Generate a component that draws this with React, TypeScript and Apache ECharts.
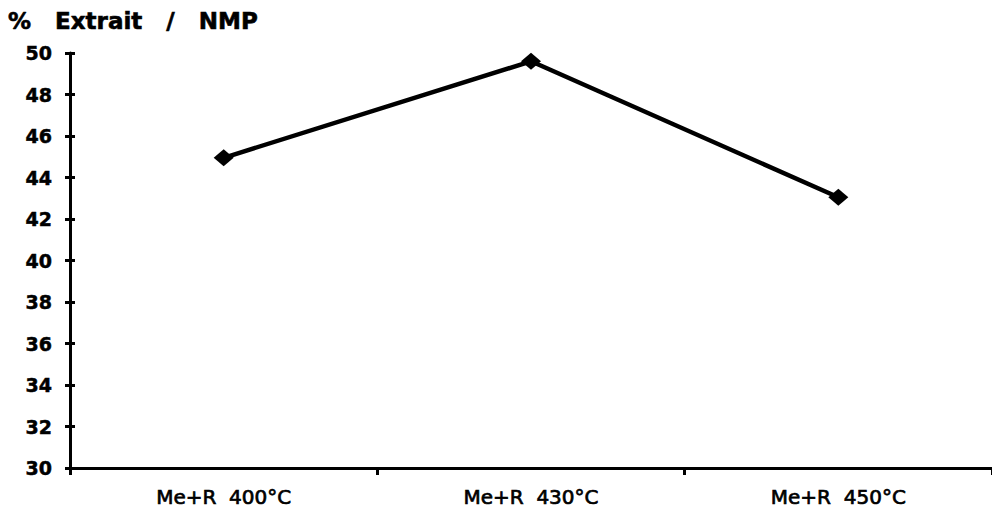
import React, { useEffect, useRef } from "react";
import * as echarts from "echarts";

const titleText = "%\u00a0\u00a0 Extrait\u00a0\u00a0 /\u00a0\u00a0 NMP";
const categories = ["Me+R  400°C", "Me+R  430°C", "Me+R  450°C"];
const extraitValues = [44.95, 49.6, 43.05];
const yMin = 30;
const yMax = 50;
const yStep = 2;

export default function App() {
  const ref = useRef<HTMLDivElement>(null);
  useEffect(() => {
    if (!ref.current) return;
    const chart = echarts.init(ref.current, null, { renderer: "svg" });
    const axisColor = "#000";
    chart.setOption({
      animation: false,
      backgroundColor: "#fff",
      title: {
        text: titleText,
        left: 8,
        top: 9,
        padding: 0,
        textStyle: {
          fontFamily: "DejaVu Sans",
          fontWeight: "bold",
          fontSize: 23,
          color: "#000",
          textBorderColor: "#000",
          textBorderWidth: 0.6,
        },
      },
      grid: { left: 70, top: 53, bottom: 42, width: 928 },
      xAxis: {
        type: "category",
        data: categories,
        boundaryGap: true,
        axisLine: { lineStyle: { color: axisColor, width: 3 } },
        axisTick: { show: true, length: 7, lineStyle: { color: axisColor, width: 3 } },
        axisLabel: {
          margin: 19,
          fontFamily: "DejaVu Sans",
          fontSize: 20,
          color: "#000",
          textBorderColor: "#000",
          textBorderWidth: 0.7,
        },
        splitLine: { show: false },
      },
      yAxis: [
        {
          type: "value",
          min: yMin,
          max: yMax,
          interval: yStep,
          axisLine: { show: true, lineStyle: { color: axisColor, width: 3 } },
          axisTick: { show: true, length: 5, lineStyle: { color: axisColor, width: 3 } },
          axisLabel: {
            margin: 18,
            fontFamily: "DejaVu Sans",
            fontWeight: "bold",
            fontSize: 19,
            color: "#000",
            textBorderColor: "#000",
            textBorderWidth: 0.5,
          },
          splitLine: { show: false },
        },
        {
          type: "value",
          position: "left",
          min: yMin,
          max: yMax,
          interval: yStep,
          axisLine: { show: false },
          axisTick: { show: true, inside: true, length: 5, lineStyle: { color: axisColor, width: 3 } },
          axisLabel: { show: false },
          splitLine: { show: false },
        },
      ],
      series: [
        {
          type: "line",
          data: extraitValues,
          yAxisIndex: 0,
          symbol: "diamond",
          symbolSize: [20, 17],
          lineStyle: { color: "#000", width: 4.5 },
          itemStyle: { color: "#000" },
        },
      ],
    });
    return () => chart.dispose();
  }, []);
  return (
    <div
      ref={ref}
      style={{ position: "fixed", left: 0, top: 0, width: 992, height: 510, background: "#fff" }}
    />
  );
}
